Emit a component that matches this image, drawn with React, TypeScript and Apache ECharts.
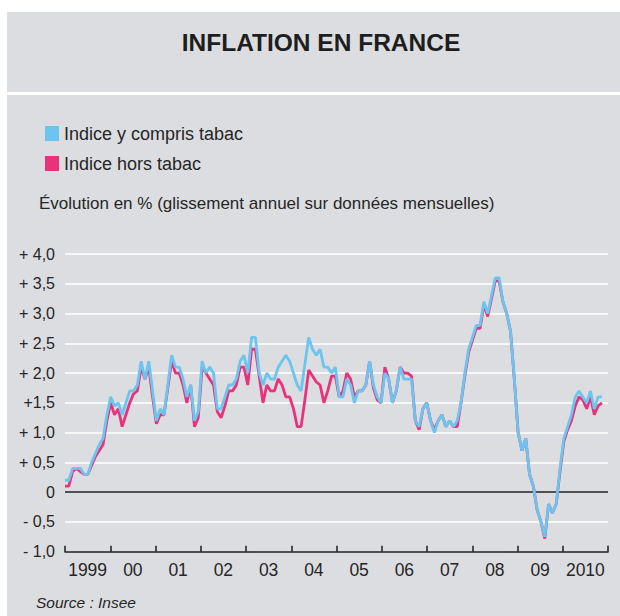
import React, { useEffect, useRef } from 'react';
import * as echarts from 'echarts';

// ---- Data ----
const yearLabels = ['1999', '00', '01', '02', '03', '04', '05', '06', '07', '08', '09', '2010'];
const yTickLabels = ['- 1,0', '- 0,5', '0', '+ 0,5', '+ 1,0', '+1,5', '+ 2,0', '+ 2,5', '+ 3,0', '+ 3,5', '+ 4,0'];
const seriesNames = ['Indice y compris tabac', 'Indice hors tabac'];

// Monthly year-on-year change, Jan 1999 .. Oct 2010
const withTobacco = [
  0.2, 0.2, 0.4, 0.4, 0.4, 0.3, 0.3, 0.5, 0.65, 0.8, 0.9, 1.3,
  1.6, 1.45, 1.5, 1.3, 1.5, 1.7, 1.7, 1.8, 2.2, 1.9, 2.2, 1.7,
  1.2, 1.4, 1.3, 1.8, 2.3, 2.1, 2.1, 1.9, 1.6, 1.8, 1.2, 1.35,
  2.2, 2.0, 2.1, 2.0, 1.4, 1.4, 1.6, 1.8, 1.8, 1.9, 2.2, 2.3,
  2.0, 2.6, 2.6, 2.0, 1.8, 2.0, 1.9, 1.9, 2.1, 2.2, 2.3, 2.2,
  2.0, 1.8, 1.7, 2.15, 2.6, 2.4, 2.3, 2.4, 2.1, 2.1, 2.0, 2.1,
  1.6, 1.6, 1.9, 1.8, 1.5, 1.7, 1.7, 1.8, 2.2, 1.8, 1.6, 1.5,
  2.0, 1.9, 1.5, 1.7, 2.1, 1.9, 1.9, 1.9, 1.2, 1.1, 1.4, 1.5,
  1.2, 1.0, 1.2, 1.3, 1.1, 1.2, 1.1, 1.2, 1.5, 2.0, 2.4, 2.6,
  2.8, 2.8, 3.2, 3.0, 3.3, 3.6, 3.6, 3.2, 3.0, 2.7, 1.9, 1.0,
  0.7, 0.9, 0.3, 0.1, -0.3, -0.5, -0.75, -0.2, -0.35, -0.2, 0.4, 0.9,
  1.1, 1.3, 1.6, 1.7, 1.6, 1.5, 1.7, 1.4, 1.6, 1.6,
];
const withoutTobacco = [
  0.1, 0.1, 0.35, 0.4, 0.35, 0.3, 0.3, 0.45, 0.6, 0.7, 0.8, 1.2,
  1.5, 1.3, 1.4, 1.1, 1.3, 1.5, 1.65, 1.7, 2.1, 1.9, 2.1, 1.6,
  1.15, 1.3, 1.3, 1.75, 2.2, 2.0, 2.0, 1.8, 1.5, 1.8, 1.1, 1.25,
  2.1, 2.0, 1.9, 1.8, 1.35, 1.25, 1.45, 1.7, 1.7, 1.8, 2.1, 2.1,
  1.8, 2.4, 2.4, 1.95, 1.5, 1.8, 1.7, 1.7, 1.9, 1.8, 1.6, 1.6,
  1.4, 1.1, 1.1, 1.55, 2.05, 1.95, 1.85, 1.8, 1.5, 1.7, 1.95, 1.95,
  1.6, 1.7, 2.0, 1.9, 1.6, 1.7, 1.7, 1.8, 2.2, 1.75, 1.55, 1.5,
  2.1, 1.9, 1.5, 1.7, 2.1, 2.0, 2.0, 1.95, 1.2, 1.05, 1.4, 1.5,
  1.2, 1.05, 1.2, 1.3, 1.1, 1.2, 1.1, 1.1, 1.5, 1.95, 2.35, 2.55,
  2.75, 2.75, 3.15, 2.95, 3.25, 3.55, 3.55, 3.2, 3.0, 2.7, 1.9, 1.0,
  0.7, 0.9, 0.3, 0.1, -0.3, -0.5, -0.78, -0.2, -0.35, -0.2, 0.35, 0.85,
  1.05, 1.2, 1.45, 1.6, 1.55, 1.4, 1.6, 1.3, 1.45, 1.5,
];

const BLUE = '#6cc5ef';
const PINK = '#e8327c';
const GRAY = '#dcdde0';
const TEXT = '#262626';
const FONT = "'Liberation Sans', Arial, sans-serif";

export default function App() {
  const ref = useRef<HTMLDivElement>(null);

  useEffect(() => {
    if (!ref.current) return;
    const chart = echarts.init(ref.current, null, { renderer: 'svg' });
    chart.setOption({
      animation: false,
      backgroundColor: '#ffffff',
      graphic: [
        { type: 'rect', z: -100, silent: true, shape: { x: 7, y: 12, width: 613, height: 80 }, style: { fill: GRAY } },
        { type: 'rect', z: -100, silent: true, shape: { x: 7, y: 95, width: 613, height: 521 }, style: { fill: GRAY } },
        {
          type: 'text', x: 321, y: 42, silent: true,
          style: { text: 'INFLATION EN FRANCE', fontFamily: FONT, fontWeight: 'bold', fontSize: 24.5, fill: '#1e1e1e', align: 'center', verticalAlign: 'middle' },
        },
        {
          type: 'text', x: 39, y: 203, silent: true,
          style: { text: 'Évolution en % (glissement annuel sur données mensuelles)', fontFamily: FONT, fontSize: 17, fill: TEXT, align: 'left', verticalAlign: 'middle' },
        },
        {
          type: 'text', x: 36, y: 602, silent: true,
          style: { text: 'Source : Insee', fontFamily: FONT, fontStyle: 'italic', fontSize: 15.5, fill: TEXT, align: 'left', verticalAlign: 'middle' },
        },
      ],
      legend: {
        orient: 'vertical',
        left: 40,
        top: 119.5,
        itemWidth: 14,
        itemHeight: 15,
        itemGap: 12,
        icon: 'rect',
        data: [seriesNames[0], seriesNames[1]],
        textStyle: { fontFamily: FONT, fontSize: 18, color: TEXT },
        selectedMode: false,
      },
      grid: { left: 65, right: 12, top: 254, bottom: 64.3, containLabel: false },
      xAxis: [
        { type: 'value', min: 0, max: 142.6, show: false },
        {
          type: 'category',
          data: yearLabels,
          boundaryGap: true,
          position: 'bottom',
          axisLine: { onZero: false, lineStyle: { color: '#1a1a1a', width: 1.5 } },
          axisTick: { show: true, inside: true, length: 6, interval: 0, lineStyle: { color: '#1a1a1a', width: 1.5 } },
          axisLabel: { interval: 0, margin: 9, fontFamily: FONT, fontSize: 17.5, color: TEXT },
          splitLine: { show: false },
        },
      ],
      yAxis: {
        type: 'value',
        min: -1,
        max: 4,
        interval: 0.5,
        axisLine: { show: false },
        axisTick: { show: false },
        axisLabel: {
          margin: 10,
          fontFamily: FONT,
          fontSize: 16,
          color: TEXT,
          formatter: (v: number) => yTickLabels[Math.round((v + 1) / 0.5)] ?? '',
        },
        splitLine: { show: true, lineStyle: { color: '#ffffff', width: 1.5 } },
      },
      series: [
        {
          name: seriesNames[1],
          type: 'line',
          xAxisIndex: 0,
          data: withoutTobacco.map((v, i) => [i, v]),
          symbol: 'none',
          showSymbol: false,
          color: PINK,
          itemStyle: { color: PINK },
          lineStyle: { color: PINK, width: 2.8 },
          z: 2,
          markLine: {
            silent: true,
            z: 1,
            symbol: 'none',
            label: { show: false },
            lineStyle: { color: '#1a1a1a', width: 1.5, type: 'solid' },
            data: [{ yAxis: 0 }],
          },
        },
        {
          name: seriesNames[0],
          type: 'line',
          xAxisIndex: 0,
          data: withTobacco.map((v, i) => [i, v]),
          symbol: 'none',
          showSymbol: false,
          color: BLUE,
          itemStyle: { color: BLUE },
          lineStyle: { color: BLUE, width: 2.8 },
          z: 3,
        },
      ],
    });
    return () => chart.dispose();
  }, []);

  return (
    <div
      ref={ref}
      style={{ position: 'absolute', left: 0, top: 0, width: 620, height: 616 }}
    />
  );
}
